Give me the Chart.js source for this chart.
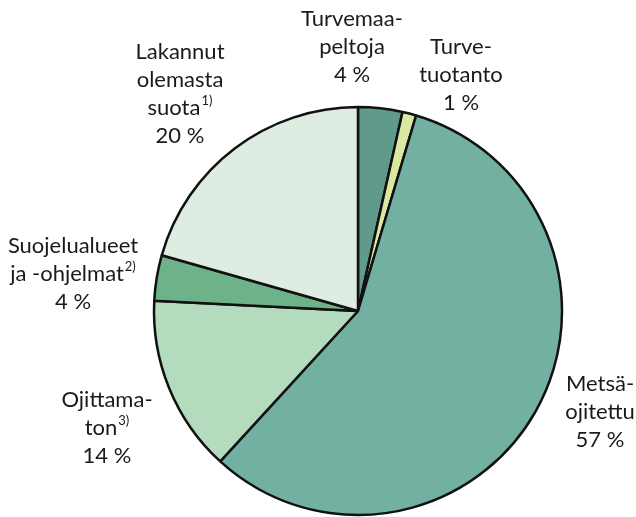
<!DOCTYPE html>
<html>
<head>
<meta charset="utf-8">
<script src="https://cdn.jsdelivr.net/npm/chart.js@4.4.0/dist/chart.umd.min.js"></script>
<style>
  html, body { margin: 0; padding: 0; background: #fff; }
  #wrap { width: 636px; height: 517px; position: relative; }
</style>
</head>
<body>
<div id="wrap"><canvas id="pie"></canvas></div>
<script>
// data (clockwise from 12 o'clock)
const categories = ["Turvemaapeltoja", "Turvetuotanto", "Metsäojitettu", "Ojittamaton", "Suojelualueet ja -ohjelmat", "Lakannut olemasta suota"];
const shares = [3.5, 1.1, 57.2, 14.0, 3.6, 20.6];
const shareLabels = ["4 %", "1 %", "57 %", "14 %", "4 %", "20 %"];
const nameLines = [
  [["Turvemaa-"], ["peltoja"]],
  [["Turve-"], ["tuotanto"]],
  [["Metsä-"], ["ojitettu"]],
  [["Ojittama-"], ["ton", "3)"]],
  [["Suojelualueet"], ["ja -ohjelmat", "2)"]],
  [["Lakannut"], ["olemasta"], ["suota", "1)"]]
];
const colors = ["#5f9a8b", "#dbe8a2", "#72b0a2", "#b4dbbe", "#6db288", "#dfece2"];

// label centre of first line, relative to pie centre
const labelPos = [
  { dx: -6, dy: -292 },
  { dx: 103, dy: -264 },
  { dx: 242, dy: 73 },
  { dx: -251, dy: 89 },
  { dx: -285, dy: -65 },
  { dx: -178, dy: -259 }
];
const lineGap = 28;

const labelPlugin = {
  id: "sliceLabels",
  afterDraw(chart) {
    const ctx = chart.ctx;
    const arc = chart.getDatasetMeta(0).data[0];
    const cx = arc.x, cy = arc.y;
    ctx.save();
    ctx.fillStyle = "#1a1a1a";
    ctx.textBaseline = "middle";
    nameLines.forEach((lines, i) => {
      const all = lines.concat([[shareLabels[i]]]);
      all.forEach((ln, j) => {
        const y = cy + labelPos[i].dy + j * lineGap;
        ctx.font = "22px Lato";
        const w1 = ctx.measureText(ln[0]).width;
        let w2 = 0;
        if (ln[1]) {
          ctx.font = "13px Lato";
          w2 = ctx.measureText(ln[1]).width + 1;
        }
        const x0 = cx + labelPos[i].dx - (w1 + w2) / 2;
        ctx.font = "22px Lato";
        ctx.textAlign = "left";
        ctx.fillText(ln[0], x0, y);
        if (ln[1]) {
          ctx.font = "13px Lato";
          ctx.fillText(ln[1], x0 + w1 + 1, y - 7);
        }
      });
    });
    ctx.restore();
  }
};

new Chart(document.getElementById("pie"), {
  type: "pie",
  data: {
    labels: categories,
    datasets: [{
      data: shares,
      backgroundColor: colors,
      borderColor: "#111",
      borderWidth: 2.5
    }]
  },
  options: {
    responsive: true,
    maintainAspectRatio: false,
    animation: false,
    radius: 204,
    layout: { padding: { left: 80, right: 0, top: 105, bottom: 0 } },
    plugins: { legend: { display: false }, tooltip: { enabled: false } }
  },
  plugins: [labelPlugin]
});
</script>
</body>
</html>
